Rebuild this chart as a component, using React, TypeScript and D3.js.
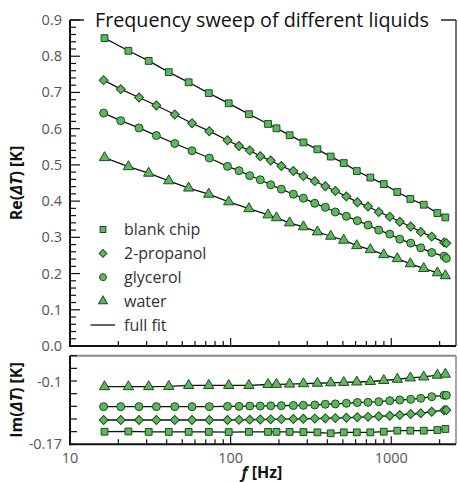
import * as d3 from 'd3';

// measurement frequencies [Hz]
const freqA = [16.4, 23.1, 30.9, 41.2, 54.8, 73.1, 97.3, 130, 171, 193, 233, 284, 347, 420, 506, 610, 741, 898, 1091, 1315, 1593, 1937, 2172];
const freqB = [16.2, 20.7, 26.9, 34.5, 44.9, 57.5, 73.7, 95.6, 112.8, 131.5, 153, 177.7, 206.9, 245.7, 283.6, 334, 388.8, 448.7, 525.5, 615, 717, 836, 979, 1130, 1322, 1527, 1787, 2133, 2203];

// Re(dT) [K]
const reBlank = [0.850, 0.815, 0.787, 0.756, 0.728, 0.698, 0.670, 0.640, 0.613, 0.601, 0.582, 0.562, 0.543, 0.523, 0.505, 0.483, 0.465, 0.447, 0.425, 0.406, 0.390, 0.367, 0.355];
const rePropanol = [0.734, 0.709, 0.686, 0.664, 0.639, 0.615, 0.593, 0.568, 0.552, 0.540, 0.524, 0.512, 0.497, 0.483, 0.469, 0.455, 0.441, 0.428, 0.413, 0.397, 0.385, 0.370, 0.357, 0.343, 0.330, 0.315, 0.302, 0.286, 0.284];
const reGlycerol = [0.643, 0.622, 0.602, 0.581, 0.559, 0.539, 0.519, 0.496, 0.484, 0.470, 0.459, 0.445, 0.433, 0.419, 0.408, 0.394, 0.383, 0.370, 0.358, 0.346, 0.334, 0.320, 0.309, 0.295, 0.284, 0.271, 0.258, 0.248, 0.242];
const reWater = [0.520, 0.495, 0.477, 0.456, 0.436, 0.419, 0.398, 0.379, 0.362, 0.354, 0.340, 0.329, 0.315, 0.303, 0.292, 0.277, 0.266, 0.252, 0.241, 0.227, 0.214, 0.202, 0.194];

// Im(dT) [K]
const imBlank = [-0.1558, -0.1555, -0.1560, -0.1560, -0.1560, -0.1560, -0.1562, -0.1560, -0.1560, -0.1560, -0.1560, -0.1562, -0.1565, -0.1576, -0.1565, -0.1565, -0.1565, -0.1558, -0.1546, -0.1546, -0.1546, -0.1539, -0.1527];
const imPropanol = [-0.1426, -0.1426, -0.1426, -0.1426, -0.1426, -0.1426, -0.1426, -0.1426, -0.1424, -0.1422, -0.1420, -0.1418, -0.1416, -0.1414, -0.1412, -0.1410, -0.1407, -0.1404, -0.1400, -0.1395, -0.1390, -0.1384, -0.1378, -0.1369, -0.1358, -0.1350, -0.1332, -0.1316, -0.1313];
const imGlycerol = [-0.1275, -0.1275, -0.1275, -0.1275, -0.1275, -0.1275, -0.1275, -0.1272, -0.1272, -0.1268, -0.1268, -0.1266, -0.1264, -0.1262, -0.1260, -0.1256, -0.1248, -0.1244, -0.1237, -0.1228, -0.1226, -0.1219, -0.1208, -0.1200, -0.1192, -0.1181, -0.1163, -0.1147, -0.1147];
const imWater = [-0.1050, -0.1050, -0.1050, -0.1047, -0.1036, -0.1036, -0.1036, -0.1036, -0.1025, -0.1023, -0.1021, -0.1016, -0.1011, -0.1006, -0.1002, -0.0997, -0.0991, -0.0980, -0.0966, -0.0951, -0.0940, -0.0920, -0.0909];

const seriesNames = ['blank chip', '2-propanol', 'glycerol', 'water'];
const fitLabel = 'full fit';
const title = 'Frequency sweep of different liquids';

const reTickLabels = [0, 0.1, 0.2, 0.3, 0.4, 0.5, 0.6, 0.7, 0.8, 0.9];
const imTickLabels = [-0.1, -0.17];
const xTickLabels = [10, 100, 1000];

const W = 458;
const H = 482;
const left = 70;
const right = 456;
const reTop = 20;
const reBottom = 346;
const imTop = 355.7;
const imBottom = 444.3;

const FONT = "'Open Sans', 'Noto Sans', sans-serif";
const GREEN = '#5cb85c';
const EDGE = '#1f4a1f';

const x = d3.scaleLog().domain([10, 2530]).range([left, right]);
const yRe = d3.scaleLinear().domain([0, 0.9]).range([reBottom, reTop]);
const yIm = d3.scaleLinear().domain([-0.17, -0.07]).range([imBottom, imTop]);

const shapes = {
  square: d3.symbol(d3.symbolSquare, 46)() ?? '',
  diamond: d3.symbol(d3.symbolSquare, 40)() ?? '',
  circle: d3.symbol(d3.symbolCircle, 50)() ?? '',
  triangle: d3.symbol(d3.symbolTriangle, 46)() ?? '',
};
type Shape = keyof typeof shapes;

const series: { name: string; shape: Shape; f: number[]; re: number[]; im: number[] }[] = [
  { name: seriesNames[0], shape: 'square', f: freqA, re: reBlank, im: imBlank },
  { name: seriesNames[1], shape: 'diamond', f: freqB, re: rePropanol, im: imPropanol },
  { name: seriesNames[2], shape: 'circle', f: freqB, re: reGlycerol, im: imGlycerol },
  { name: seriesNames[3], shape: 'triangle', f: freqA, re: reWater, im: imWater },
];

function Marker({ shape, cx, cy, k = 1 }: { shape: Shape; cx: number; cy: number; k?: number }) {
  const rot = shape === 'diamond' ? ' rotate(45)' : '';
  return (
    <path
      d={shapes[shape]}
      transform={`translate(${cx},${cy}) scale(${k})${rot}`}
      fill={GREEN}
      stroke={EDGE}
      strokeWidth={1 / k}
    />
  );
}

function XTicks({ y0 }: { y0: number }) {
  const minor = x.ticks(20).filter((t) => t > 10);
  return (
    <g>
      {minor.map((t) => {
        const major = xTickLabels.includes(t);
        return (
          <line key={t} x1={x(t)} x2={x(t)} y1={y0} y2={y0 - (major ? 8 : 5)} stroke="#111" strokeWidth={1.2} />
        );
      })}
    </g>
  );
}

export default function App() {
  const lineRe = (s: (typeof series)[number]) =>
    d3
      .line<number>()
      .x((_, i) => x(s.f[i]))
      .y((d) => yRe(d))(s.re) ?? '';
  const lineIm = (s: (typeof series)[number]) =>
    d3
      .line<number>()
      .x((_, i) => x(s.f[i]))
      .y((d) => yIm(d))(s.im) ?? '';

  const reMinor = d3.range(0, 0.9001, 0.02);
  const imMinor = d3.range(8).map((k) => -0.17 + (k * 0.1) / 7);
  const legendY = d3.scaleLinear().domain([0, 4]).range([229.5, 325]);

  return (
    <svg
      width={W}
      height={H}
      viewBox={`0 0 ${W} ${H}`}
      style={{ position: 'absolute', left: 0, top: 0, background: '#fff' }}
      fontFamily={FONT}
    >
      {/* top panel frame */}
      <line x1={right} x2={right} y1={reTop} y2={reBottom} stroke="#444" strokeWidth={1.5} />
      <line x1={left} x2={right} y1={reTop} y2={reTop} stroke="#222" strokeWidth={1.5} />
      <rect x={84} y={6} width={357} height={30} fill="#fff" />
      <text x={262} y={27} textAnchor="middle" fontSize={20} fill="#111" textLength={334} lengthAdjust="spacingAndGlyphs">
        {title}
      </text>

      {reMinor.map((v) => {
        const major = Math.abs(v * 10 - Math.round(v * 10)) < 1e-6;
        return (
          <line key={v} x1={left} x2={left + (major ? 10 : 6)} y1={yRe(v)} y2={yRe(v)} stroke="#111" strokeWidth={1.2} />
        );
      })}
      {reTickLabels.map((v) => (
        <text key={v} x={62} y={yRe(v) + 5} textAnchor="end" fontSize={14.5} fill="#555">
          {v.toFixed(1)}
        </text>
      ))}
      <XTicks y0={reBottom} />

      {series.map((s) => (
        <path key={s.name} d={lineRe(s)} fill="none" stroke="#111" strokeWidth={1.3} />
      ))}
      {series.map((s) =>
        s.re.map((v, i) => <Marker key={s.name + i} shape={s.shape} cx={x(s.f[i])} cy={yRe(v)} />),
      )}
      <line x1={left} x2={left} y1={reTop} y2={reBottom + 1} stroke="#111" strokeWidth={2} />
      <line x1={left - 1} x2={right} y1={reBottom} y2={reBottom} stroke="#111" strokeWidth={2} />

      {/* legend */}
      {series.map((s, i) => (
        <g key={s.name}>
          <Marker shape={s.shape} cx={103} cy={legendY(i)} k={0.85} />
          <text x={124} y={legendY(i) + 5.5} fontSize={16} fill="#333">
            {s.name}
          </text>
        </g>
      ))}
      <line x1={90.5} x2={115} y1={legendY(4)} y2={legendY(4)} stroke="#111" strokeWidth={1.3} />
      <text x={124} y={legendY(4) + 5.5} fontSize={16} fill="#333">
        {fitLabel}
      </text>

      <text transform={`translate(22,${(reTop + reBottom) / 2}) rotate(-90)`} textAnchor="middle" fontSize={16} fontWeight="bold" fill="#111">
        Re(<tspan fontStyle="italic">ΔT</tspan>) [K]
      </text>

      {/* bottom panel */}
      <line x1={left} x2={right} y1={imTop} y2={imTop} stroke="#888" strokeWidth={2} />
      <line x1={right} x2={right} y1={imTop} y2={imBottom} stroke="#888" strokeWidth={1.5} />
      {imMinor.map((v, k) => (
        <line key={k} x1={left} x2={left + 7} y1={yIm(v)} y2={yIm(v)} stroke="#111" strokeWidth={1.2} />
      ))}
      {imTickLabels.map((v) => (
        <text key={v} x={62} y={yIm(v) + 5} textAnchor="end" fontSize={14.5} fill="#555">
          {v}
        </text>
      ))}
      <XTicks y0={imBottom} />
      {series.map((s) => (
        <path key={s.name} d={lineIm(s)} fill="none" stroke="#111" strokeWidth={1.3} />
      ))}
      {series.map((s) =>
        s.im.map((v, i) => <Marker key={s.name + i} shape={s.shape} cx={x(s.f[i])} cy={yIm(v)} />),
      )}
      <line x1={left} x2={left} y1={imTop} y2={imBottom + 1} stroke="#111" strokeWidth={2} />
      <line x1={left - 1} x2={right} y1={imBottom} y2={imBottom} stroke="#111" strokeWidth={2} />

      {xTickLabels.map((t) => (
        <text key={t} x={x(t)} y={463} textAnchor="middle" fontSize={14.5} fill="#555">
          {t}
        </text>
      ))}
      <text x={262} y={478} textAnchor="middle" fontSize={16} fontWeight="bold" fill="#111">
        <tspan fontStyle="italic">f</tspan> [Hz]
      </text>
      <text transform={`translate(22,${(imTop + imBottom) / 2}) rotate(-90)`} textAnchor="middle" fontSize={16} fontWeight="bold" fill="#111">
        Im(<tspan fontStyle="italic">ΔT</tspan>) [K]
      </text>
    </svg>
  );
}
